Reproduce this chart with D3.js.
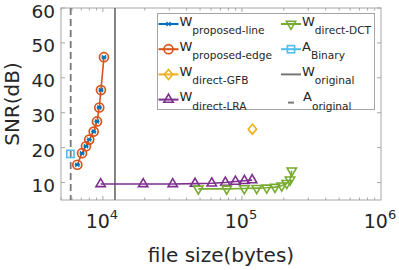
<!DOCTYPE html>
<html><head><meta charset="utf-8">
<script src="https://cdn.jsdelivr.net/npm/d3@7"></script>
<style>body{margin:0;background:#fff}svg{display:block}text{font-family:"DejaVu Sans",sans-serif;fill:#262626}</style>
</head><body>
<svg id="c" width="399" height="270"></svg>
<script>
// ---- data ----
const edgeSize = [6550, 7080, 7560, 7980, 8590, 9070, 9420, 9690, 10180];
const edgeSNR  = [15.1, 18.4, 20.4, 22.3, 24.6, 27.5, 31.5, 36.5, 45.9];
const lineSize = [6550, 7080, 7560, 7980, 8590, 9070, 9420, 9690, 10180];
const lineSNR  = [15.1, 18.4, 20.4, 22.3, 24.6, 27.5, 31.5, 36.5, 45.9];
const gfbSize = [118900];
const gfbSNR  = [25.3];
const lraSize = [9640, 19500, 31800, 46000, 60700, 76000, 89800, 104300, 118400];
const lraSNR  = [9.6, 9.6, 9.6, 9.7, 9.8, 10.0, 10.3, 10.5, 10.7];
const dctSize = [48600, 77800, 104000, 127700, 150700, 172900, 193200, 209900, 221800, 228200];
const dctSNR  = [8.2, 8.2, 8.3, 8.4, 8.5, 8.7, 9.1, 9.8, 10.8, 13.4];
const binSize = [5840];
const binSNR  = [18.2];
const wOriginal = 12220;
const aOriginal = 5870;
const yTicks = [10, 20, 30, 40, 50, 60];
const xTicks = [1e4, 1e5, 1e6];
const xLabel = "file size(bytes)";
const yLabel = "SNR(dB)";
const legendItems = [
  {base:"W", sub:"proposed-line", key:"line"},
  {base:"W", sub:"proposed-edge", key:"edge"},
  {base:"W", sub:"direct-GFB", key:"gfb"},
  {base:"W", sub:"direct-LRA", key:"lra"},
  {base:"W", sub:"direct-DCT", key:"dct"},
  {base:"A", sub:"Binary", key:"bin"},
  {base:"W", sub:"original", key:"wo"},
  {base:"A", sub:"original", key:"ao"}
];

// ---- layout ----
const L = 61, R = 381, T = 8, B = 200;
const svg = d3.select("#c");
const x = d3.scaleLog().domain([5000, 1e6]).range([L, R]);
const y = d3.scaleLinear().domain([5, 60]).range([B, T]);

const C = {blue:"#0072BD", orange:"#D95319", yellow:"#EDB120", purple:"#7E2F8E", green:"#77AC30", cyan:"#4DBEEE", gray:"#777777"};
const axisCol = "#a6a6a6";

// axes box
svg.append("rect").attr("x", L).attr("y", T).attr("width", R - L).attr("height", B - T)
  .attr("fill", "#fff").attr("stroke", axisCol).attr("stroke-width", 1);

// x ticks (major + minor) top and bottom
const minor = [];
for (let e = 3; e <= 5; e++) for (let m = 1; m <= 9; m++) { const v = m * Math.pow(10, e); if (v >= 5000 && v <= 1e6) minor.push(v); }
const g = svg.append("g");
minor.forEach(v => {
  const isMajor = xTicks.includes(v);
  const len = isMajor ? 4 : 2.5;
  g.append("line").attr("x1", x(v)).attr("x2", x(v)).attr("y1", B).attr("y2", B - len).attr("stroke", axisCol);
  g.append("line").attr("x1", x(v)).attr("x2", x(v)).attr("y1", T).attr("y2", T + len).attr("stroke", axisCol);
});
yTicks.forEach(v => {
  g.append("line").attr("x1", L).attr("x2", L + 4).attr("y1", y(v)).attr("y2", y(v)).attr("stroke", axisCol);
  g.append("line").attr("x1", R).attr("x2", R - 4).attr("y1", y(v)).attr("y2", y(v)).attr("stroke", axisCol);
  svg.append("text").attr("x", L - 6).attr("y", y(v) + 9.5).attr("text-anchor", "end")
    .attr("font-size", 18.5).text(v);
});
xTicks.forEach((v, i) => {
  const t = svg.append("text").attr("x", x(v) - 1).attr("y", 228).attr("text-anchor", "middle").attr("font-size", 19);
  t.append("tspan").text("10");
  t.append("tspan").attr("dy", -9).attr("font-size", 13).text(Math.log10(v));
});

// axis titles
svg.append("text").attr("x", (L + R) / 2).attr("y", 262).attr("text-anchor", "middle").attr("font-size", 20).text(xLabel);
svg.append("text").attr("transform", `translate(19,${(T + B) / 2}) rotate(-90)`).attr("text-anchor", "middle").attr("font-size", 20).text(yLabel);

// reference lines
svg.append("line").attr("x1", x(wOriginal)).attr("x2", x(wOriginal)).attr("y1", T).attr("y2", B)
  .attr("stroke", C.gray).attr("stroke-width", 1.8);
svg.append("line").attr("x1", x(aOriginal)).attr("x2", x(aOriginal)).attr("y1", T).attr("y2", B)
  .attr("stroke", C.gray).attr("stroke-width", 1.8).attr("stroke-dasharray", "7,4");

const line = d3.line().x(d => x(d[0])).y(d => y(d[1]));
const zip = (a, b) => a.map((v, i) => [v, b[i]]);

const tri = d3.symbol().type(d3.symbolTriangle).size(38);

function drawMarker(sel, key, cx, cy) {
  if (key === "edge") {
    sel.append("circle").attr("cx", cx).attr("cy", cy).attr("r", 4.5).attr("fill", "none").attr("stroke", C.orange).attr("stroke-width", 1.7);
  } else if (key === "line") {
    const s = 2;
    sel.append("path").attr("d", `M${cx - s},${cy - s}L${cx + s},${cy + s}M${cx - s},${cy + s}L${cx + s},${cy - s}M${cx - 2.6},${cy}L${cx + 2.6},${cy}`)
      .attr("stroke", C.blue).attr("stroke-width", 1.3).attr("fill", "none");
  } else if (key === "gfb") {
    sel.append("path").attr("d", `M${cx},${cy - 5}L${cx + 4.2},${cy}L${cx},${cy + 5}L${cx - 4.2},${cy}Z`)
      .attr("fill", "none").attr("stroke", C.yellow).attr("stroke-width", 1.6);
  } else if (key === "lra") {
    sel.append("path").attr("d", tri()).attr("transform", `translate(${cx},${cy})`)
      .attr("fill", "none").attr("stroke", C.purple).attr("stroke-width", 1.6);
  } else if (key === "dct") {
    sel.append("path").attr("d", tri()).attr("transform", `translate(${cx},${cy}) rotate(180)`)
      .attr("fill", "none").attr("stroke", C.green).attr("stroke-width", 1.6);
  } else if (key === "bin") {
    sel.append("rect").attr("x", cx - 3.6).attr("y", cy - 3.6).attr("width", 7.2).attr("height", 7.2)
      .attr("fill", "none").attr("stroke", C.cyan).attr("stroke-width", 1.6);
  }
}

const plot = svg.append("g");
// LRA
plot.append("path").attr("d", line(zip(lraSize, lraSNR))).attr("fill", "none").attr("stroke", C.purple).attr("stroke-width", 1.6);
zip(lraSize, lraSNR).forEach(d => drawMarker(plot, "lra", x(d[0]), y(d[1])));
// DCT
plot.append("path").attr("d", line(zip(dctSize, dctSNR))).attr("fill", "none").attr("stroke", C.green).attr("stroke-width", 1.6);
zip(dctSize, dctSNR).forEach(d => drawMarker(plot, "dct", x(d[0]), y(d[1])));
// GFB
zip(gfbSize, gfbSNR).forEach(d => drawMarker(plot, "gfb", x(d[0]), y(d[1])));
// Binary
zip(binSize, binSNR).forEach(d => drawMarker(plot, "bin", x(d[0]), y(d[1])));
// proposed edge
plot.append("path").attr("d", line(zip(edgeSize, edgeSNR))).attr("fill", "none").attr("stroke", C.orange).attr("stroke-width", 1.6);
zip(edgeSize, edgeSNR).forEach(d => drawMarker(plot, "edge", x(d[0]), y(d[1])));
// proposed line (markers drawn over the edge series)
zip(lineSize, lineSNR).forEach(d => drawMarker(plot, "line", x(d[0]), y(d[1])));

// legend
const lg = svg.append("g");
lg.append("rect").attr("x", 157.5).attr("y", 13.5).attr("width", 217).attr("height", 96)
  .attr("fill", "#fff").attr("stroke", axisCol).attr("stroke-width", 1);
const lineColor = {line:C.blue, edge:C.orange, gfb:C.yellow, lra:C.purple, dct:C.green, bin:C.cyan, wo:C.gray, ao:C.gray};
legendItems.forEach((it, i) => {
  const col = Math.floor(i / 4), row = i % 4;
  const x0 = col === 0 ? 158.5 : 281;
  const by = 25.5 + 25.2 * row;
  const my = by - 1.5;
  if (it.key === "ao") {
    lg.append("line").attr("x1", x0 + 7).attr("x2", x0 + 13).attr("y1", my + 3).attr("y2", my + 3).attr("stroke", C.gray).attr("stroke-width", 2);
  } else if (it.key === "wo") {
    lg.append("line").attr("x1", x0).attr("x2", x0 + 20).attr("y1", my).attr("y2", my).attr("stroke", C.gray).attr("stroke-width", 2);
  } else {
    lg.append("line").attr("x1", x0).attr("x2", x0 + 20).attr("y1", my).attr("y2", my).attr("stroke", lineColor[it.key]).attr("stroke-width", 2);
    drawMarker(lg, it.key, x0 + 10, my);
  }
  const tx = it.key === "ao" ? x0 + 22 : x0 + 21;
  const t = lg.append("text").attr("x", tx).attr("y", by).attr("font-size", 13);
  t.append("tspan").text(it.base);
  t.append("tspan").attr("dy", 8.5).attr("font-size", 10.6).text(it.sub);
});
</script>
</body></html>
